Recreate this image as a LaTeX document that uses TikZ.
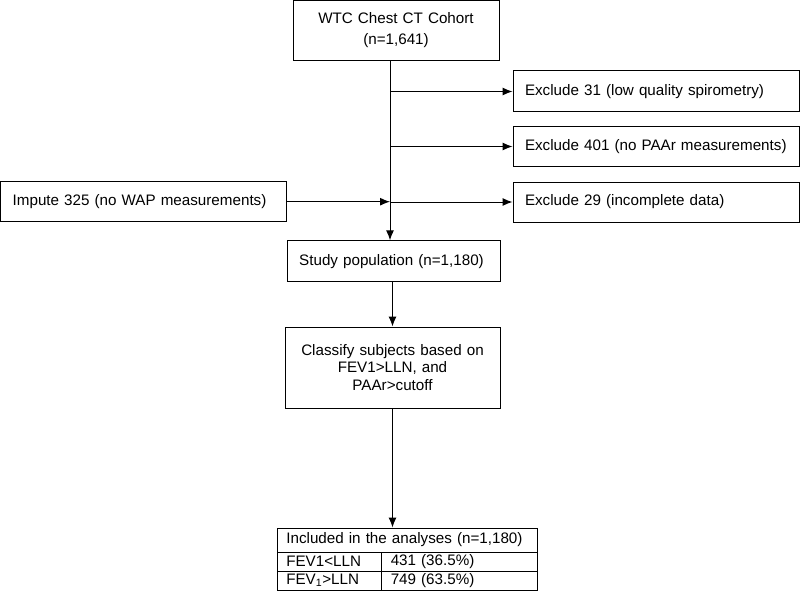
\documentclass[tikz,border=0pt]{standalone}
\usepackage{fontspec}
\setmainfont{Liberation Sans}
\usetikzlibrary{arrows.meta}
\begin{document}
\begin{tikzpicture}[x=1pt,y=-1pt,
  box/.style={draw,line width=1pt,inner ysep=0pt,font=\fontsize{15.2}{18}\selectfont},
  lbox/.style={box,inner xsep=12pt,align=left,text width=#1},
  cbox/.style={box,inner xsep=2pt,align=center,text width=#1},
  cell/.style={box,inner xsep=9pt,align=left,text width=#1},
  arr/.style={line width=1pt,-{Latex[length=10pt,width=8pt]}},
  ln/.style={line width=1pt}
]
\useasboundingbox (0,0) rectangle (800,591);
% boxes
\node[cbox=202pt,minimum height=60pt,font=\fontsize{15.2}{21}\selectfont] (top) at (396,30.5) {WTC Chest CT Cohort\\(n=1,641)};
\node[lbox=262pt,minimum height=41pt] (ex1) at (656,91.5) {Exclude 31 (low quality spirometry)};
\node[lbox=262pt,minimum height=40pt] (ex2) at (656,146.5) {Exclude 401 (no PAAr measurements)};
\node[lbox=262pt,minimum height=40pt] (ex3) at (656,202) {Exclude 29 (incomplete data)};
\node[lbox=262pt,minimum height=40pt] (imp) at (143.7,201.7) {Impute 325 (no WAP measurements)};
\node[lbox=189pt,minimum height=41pt] (study) at (393.7,261.3) {Study population (n=1,180)};
\node[cbox=211pt,minimum height=81pt,font=\fontsize{15.2}{17.5}\selectfont] (cls) at (392.5,367.5) {Classify subjects based on\\FEV1>LLN, and\\PAAr>cutoff};
% table
\node[cell=241.7pt,minimum height=24pt] (t0) at (407.2,540) {Included in the analyses (n=1,180)};
\node[cell=86.4pt,minimum height=19pt] (t1a) at (329.5,561.5) {FEV1<LLN};
\node[cell=137.3pt,minimum height=19pt] (t1b) at (459.4,561.5) {431 (36.5\%)};
\node[cell=86.4pt,minimum height=19pt] (t2a) at (329.5,580.5) {FEV\textsubscript{1}>LLN};
\node[cell=137.3pt,minimum height=19pt] (t2b) at (459.4,580.5) {749 (63.5\%)};
% connectors
\coordinate (trunk) at (390,0);
\draw[arr] (trunk |- top.south) -- (trunk |- study.north);
\draw[arr] (trunk |- ex1.west) -- (ex1.west);
\draw[arr] (trunk |- ex2.west) -- (ex2.west);
\draw[arr] (trunk |- ex3.west) -- (ex3.west);
\draw[arr] (imp.east) -- (trunk |- imp.east);
\draw[arr] (study.south -| cls.north) -- (cls.north);
\draw[arr] (cls.south) -- (cls.south |- t0.north);
\end{tikzpicture}
\end{document}
